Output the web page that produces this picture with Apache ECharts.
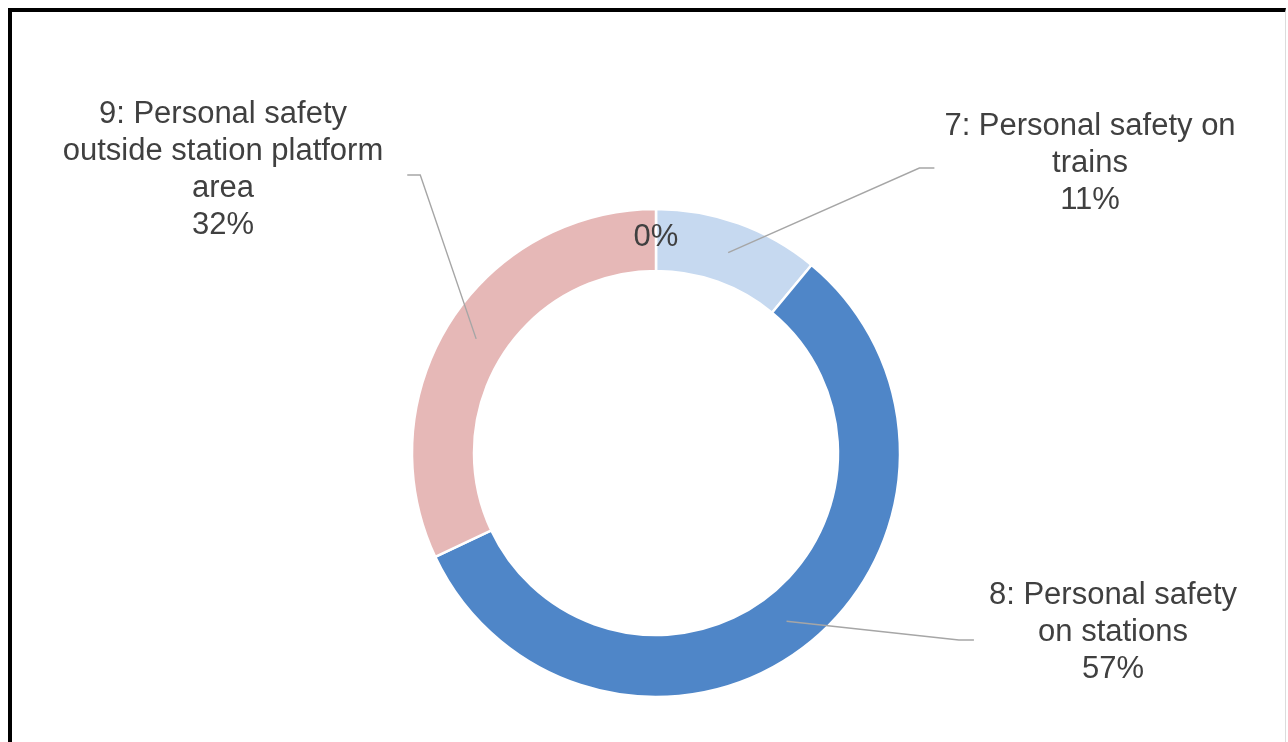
<!DOCTYPE html>
<html>
<head>
<meta charset="utf-8">
<script src="https://cdn.jsdelivr.net/npm/echarts@6/dist/echarts.min.js"></script>
<style>
  html, body { margin: 0; padding: 0; background: #fff; }
  #chart { position: absolute; left: 0; top: 0; width: 1288px; height: 742px; }
  #frame {
    position: absolute; left: 8px; top: 8px; width: 1273px; height: 760px;
    border-top: 4px solid #000; border-left: 4px solid #000; border-right: 1px solid #dcdcdc;
    pointer-events: none;
  }
</style>
</head>
<body>
<div id="chart"></div>
<div id="frame"></div>
<script>
// Share of incidents by category (percent of total)
const categories = [
  '6',
  '7: Personal safety on\ntrains',
  '8: Personal safety\non stations',
  '9: Personal safety\noutside station platform\narea'
];
const shares = [0, 11, 57, 32];

// Ring geometry
const CENTER = [656, 453];
const OUTER_R = 244;
const INNER_R = 182;
const MID_R = (OUTER_R + INNER_R) / 2;

// Label block centre [x, y], gap between text and leader end, leader end y offset
const LABEL_SPOTS = {
  1: [1090, 163, 10, 5],
  2: [1113, 632, 15, 8],
  3: [223, 170, 24, 5]
};

const FONT = "'Liberation Sans', Arial, sans-serif";
const TEXT_COLOR = '#404040';

const total = shares.reduce((a, b) => a + b, 0);
// Bisector angle of slice i, clockwise from 12 o'clock (radians)
function bisector(i) {
  let before = 0;
  for (let j = 0; j < i; j++) before += shares[j];
  return (before + shares[i] / 2) / total * Math.PI * 2;
}

const chart = echarts.init(document.getElementById('chart'), null, { renderer: 'canvas' });

const ringData = categories.map((name, i) => {
  const item = { name: name, value: shares[i] };
  if (shares[i] === 0) {
    item.label = { show: true, position: 'inside', formatter: '{d}%' };
  }
  return item;
});

const labelData = categories.map((name, i) => {
  const item = { name: name, value: shares[i] };
  if (shares[i] === 0) {
    item.label = { show: false };
    item.labelLine = { show: false };
  }
  return item;
});

const common = {
  type: 'pie',
  center: CENTER,
  radius: [INNER_R, OUTER_R],
  startAngle: 90,
  clockwise: true,
  avoidLabelOverlap: false,
  percentPrecision: 0,
  emphasis: { disabled: true }
};

chart.setOption({
  animation: false,
  backgroundColor: '#fff',
  color: ['#C6D9F0', '#C6D9F0', '#4F86C8', '#E6B8B7'],
  series: [
    // the coloured ring
    Object.assign({}, common, {
      z: 2,
      itemStyle: { borderColor: '#fff', borderWidth: 2.5 },
      label: {
        show: false,
        color: TEXT_COLOR,
        fontFamily: FONT,
        fontSize: 31,
        textBorderWidth: 0
      },
      labelLine: { show: false },
      data: ringData
    }),
    // invisible twin that carries the callout labels above the ring
    Object.assign({}, common, {
      z: 3,
      silent: true,
      itemStyle: { color: 'rgba(0,0,0,0)', borderWidth: 0 },
      label: {
        show: true,
        position: 'outside',
        formatter: '{b}\n{d}%',
        color: TEXT_COLOR,
        fontFamily: FONT,
        fontSize: 31,
        lineHeight: 37,
        align: 'center',
        overflow: 'none',
        textBorderWidth: 0
      },
      labelLine: {
        show: true,
        lineStyle: { color: '#A6A6A6', width: 1.4 }
      },
      labelLayout: function (p) {
        const spot = LABEL_SPOTS[p.dataIndex];
        if (!spot) return {};
        const x = spot[0], y = spot[1], gap = spot[2];
        const halfW = p.labelRect.width / 2;
        const onRight = x > CENTER[0];
        const endX = onRight ? x - halfW - gap : x + halfW + gap;
        const bendX = onRight ? endX - 15 : endX + 13;
        const lineY = y + spot[3];
        // leader starts mid-ring on the slice's bisector
        const a = bisector(p.dataIndex);
        const start = [CENTER[0] + MID_R * Math.sin(a), CENTER[1] - MID_R * Math.cos(a)];
        return {
          x: x,
          y: y,
          align: 'center',
          verticalAlign: 'middle',
          labelLinePoints: [start, [bendX, lineY], [endX, lineY]]
        };
      },
      data: labelData
    })
  ]
});
</script>
</body>
</html>
